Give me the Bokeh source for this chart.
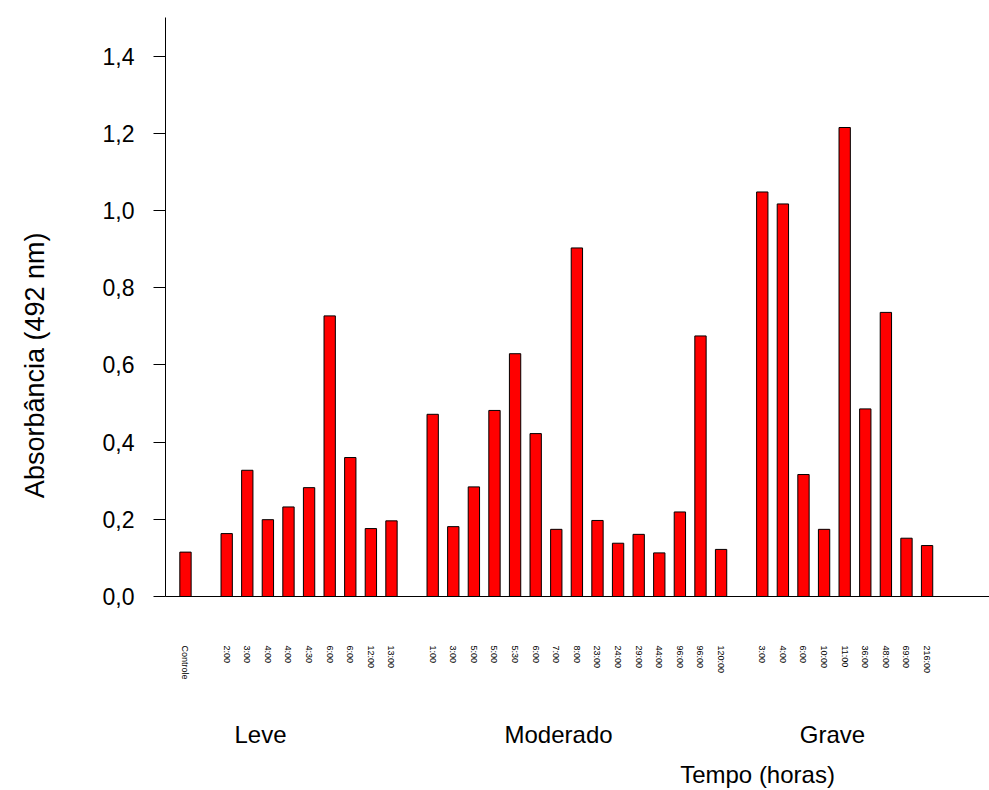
import math
from bokeh.plotting import figure
from bokeh.models import Range1d, FixedTicker, ColumnDataSource, LinearAxis
from bokeh.embed import file_html
from bokeh.resources import INLINE

# ---- data ----
controle_labels = ["Controle"]
controle_values = [0.115]
leve_labels = ["2:00", "3:00", "4:00", "4:00", "4:30", "6:00", "6:00", "12:00", "13:00"]
leve_values = [0.163, 0.327, 0.199, 0.232, 0.282, 0.727, 0.360, 0.176, 0.196]
moderado_labels = ["1:00", "3:00", "5:00", "5:00", "5:30", "6:00", "7:00", "8:00",
                   "23:00", "24:00", "29:00", "44:00", "96:00", "96:00", "120:00"]
moderado_values = [0.472, 0.181, 0.284, 0.482, 0.629, 0.422, 0.174, 0.903,
                   0.197, 0.138, 0.161, 0.113, 0.219, 0.675, 0.122]
grave_labels = ["3:00", "4:00", "6:00", "10:00", "11:00", "36:00", "48:00", "69:00", "216:00"]
grave_values = [1.048, 1.017, 0.316, 0.174, 1.215, 0.486, 0.736, 0.151, 0.132]
group_names = ["Leve", "Moderado", "Grave"]
x_title = "Tempo (horas)"
y_title = "Absorbância (492 nm)"
y_ticks = [0.0, 0.2, 0.4, 0.6, 0.8, 1.0, 1.2, 1.4]

# build slot positions: groups separated by one empty slot
xs, tops, labels = [], [], []
pos = 0
for labs, vals in [(controle_labels, controle_values), (leve_labels, leve_values),
                   (moderado_labels, moderado_values), (grave_labels, grave_values)]:
    for l, v in zip(labs, vals):
        xs.append(pos)
        tops.append(v)
        labels.append(l)
        pos += 1
    pos += 1

src = ColumnDataSource(dict(x=xs, top=tops))

FONT = "Liberation Sans"

p = figure(width=989, height=790, output_backend="svg", toolbar_location=None,
           x_range=Range1d(-0.97, 39.03), y_range=Range1d(0, 1.5),
           min_border_left=165, min_border_right=0, min_border_top=17,
           min_border_bottom=0)
p.outline_line_color = None
p.grid.visible = False
p.background_fill_color = "white"
p.border_fill_color = "white"

p.vbar(x="x", top="top", bottom=0, width=0.55, source=src,
       fill_color="#FF0000", line_color="black", line_width=1)


def plain_axis(ax):
    ax.major_tick_out = 0
    ax.major_tick_in = 0
    ax.minor_tick_out = 0
    ax.minor_tick_in = 0
    ax.major_label_text_font = FONT
    ax.major_label_text_color = "black"


# x axis (time labels)
xa = p.xaxis[0]
xa.ticker = FixedTicker(ticks=xs)
xa.major_label_overrides = {x: l for x, l in zip(xs, labels)}
xa.major_label_orientation = "vertical"
plain_axis(xa)
xa.major_label_standoff = 49
xa.major_label_text_font_size = "9px"
xa.axis_line_color = "black"
xa.axis_line_width = 1

# second below axis: group names
group_x = [3.64, 18.11, 31.41]
ga = LinearAxis(ticker=FixedTicker(ticks=group_x),
                major_label_overrides={x: n for x, n in zip(group_x, group_names)})
plain_axis(ga)
ga.axis_line_color = None
ga.major_label_standoff = 38
ga.major_label_text_font_size = "24px"
p.add_layout(ga, "below")

# third below axis: x title
title_x = [27.77]
ta = LinearAxis(ticker=FixedTicker(ticks=title_x),
                major_label_overrides={title_x[0]: x_title})
plain_axis(ta)
ta.axis_line_color = None
ta.major_label_standoff = 10
ta.major_label_text_font_size = "24px"
p.add_layout(ta, "below")

# y axis
ya = p.yaxis[0]
ya.ticker = FixedTicker(ticks=y_ticks)
ya.major_label_overrides = {t: f"{t:.1f}".replace(".", ",") for t in y_ticks}
ya.major_tick_out = 12
ya.major_tick_in = 0
ya.minor_tick_out = 0
ya.minor_tick_in = 0
ya.major_label_standoff = 19
ya.major_label_text_font = FONT
ya.major_label_text_font_size = "23px"
ya.major_label_text_color = "black"
ya.axis_line_color = "black"

# outer left axis carrying the y title (anchored at the text's end)
ty = [0.943]
yt = LinearAxis(ticker=FixedTicker(ticks=ty),
                major_label_overrides={ty[0]: y_title})
plain_axis(yt)
yt.axis_line_color = None
yt.major_label_orientation = math.pi / 2
yt.major_label_standoff = 64
yt.major_label_text_font_size = "27px"
p.add_layout(yt, "left")

open("out.html", "w").write(file_html(p, INLINE))
